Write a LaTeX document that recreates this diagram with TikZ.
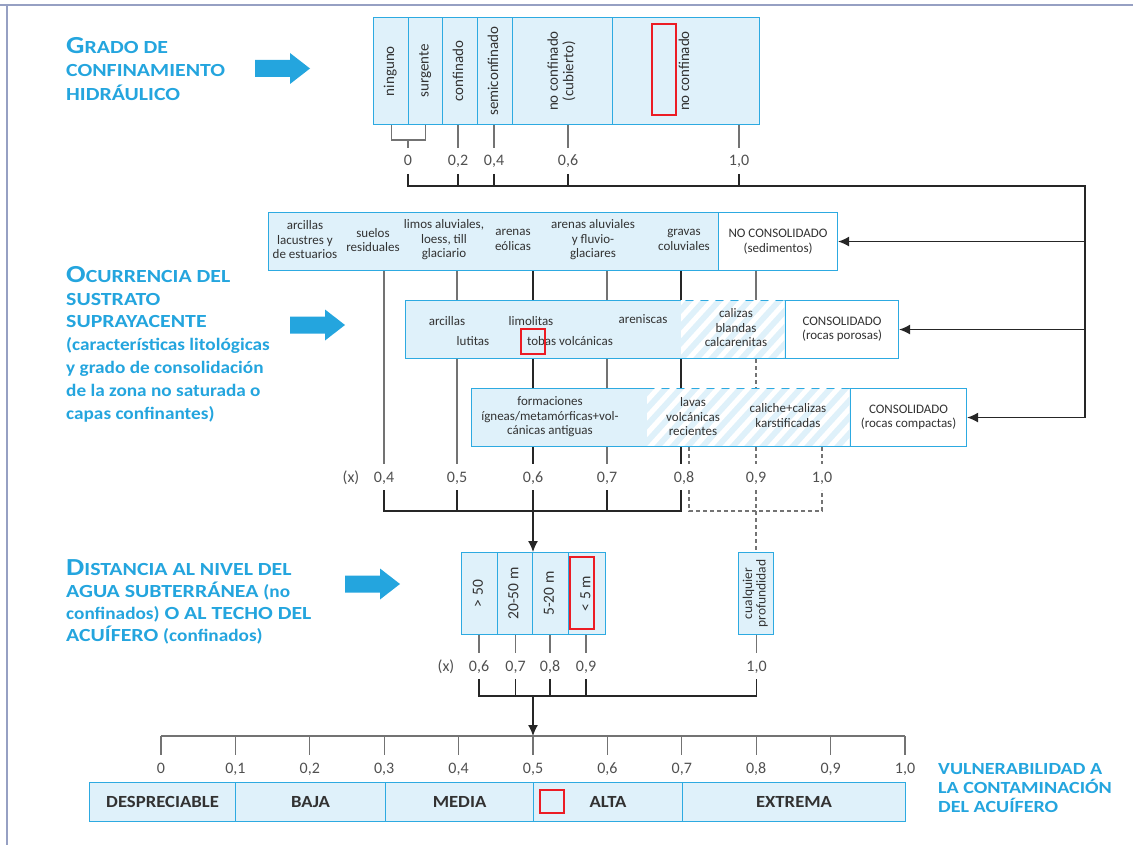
\documentclass[tikz,border=0pt]{standalone}
\usepackage{fontspec}
\setmainfont{Carlito}
\newfontfamily\headfont[FakeStretch=1.1]{Carlito}
\newfontfamily\capfont[FakeStretch=1.18]{Carlito}
\usetikzlibrary{arrows.meta,positioning}

\definecolor{cellline}{RGB}{45,170,225}
\definecolor{cellfill}{RGB}{223,241,250}
\definecolor{headblue}{RGB}{36,165,222}
\definecolor{textgray}{RGB}{50,50,50}
\definecolor{numgray}{RGB}{80,80,80}
\definecolor{conngray}{RGB}{115,115,115}
\definecolor{markred}{RGB}{236,28,36}
\definecolor{framegray}{RGB}{150,160,195}

\newcommand{\up}[1]{\rotatebox{90}{\begin{tabular}{@{}c@{}}#1\end{tabular}}}
\newcommand{\initial}[1]{{\fontsize{24.5}{20}\selectfont #1}}
\newcommand{\lc}[1]{{\headfont\bfseries\fontsize{17.5}{20}\selectfont #1}}
% block arrow pointing right, tail centre at (#1,#2)
\newcommand{\blockarrow}[2]{%
  \fill[headblue] (#1,#2) ++(0,-8.5) -- ++(35,0) -- ++(0,-7) -- ++(20,15.5)
    -- ++(-20,15.5) -- ++(0,-7) -- ++(-35,0) -- cycle;}

\tikzset{
  cell/.style={draw=cellline, line width=1.1, fill=cellfill, inner sep=0,
    anchor=north west, align=center, text=textgray,
    font=\fontsize{13}{14.5}\selectfont},
  emptycell/.style={cell, fill=white},
  upcell/.style={cell, font=\fontsize{15}{15.5}\selectfont},
  lbl/.style={inner sep=0, align=center, text=textgray,
    font=\fontsize{13}{14.5}\selectfont},
  num/.style={inner sep=0, text height=10, text depth=0, outer ysep=8,
    text=numgray, font=\fontsize{16}{16}\selectfont},
  conn/.style={draw=conngray, line width=1.1},
  dconn/.style={conn, dash pattern=on 4pt off 3pt},
  hconn/.style={draw=black!85, line width=1.3},
  tip/.style={-{Latex[length=11,width=10]}},
  hatchline/.style={white, line width=5},
  heading/.style={inner sep=0, anchor=north west, align=left, text=headblue},
  grade/.style={cell, font=\headfont\bfseries\fontsize{17}{17}\selectfont},
  redmark/.style={draw=markred, line width=2.6}
}

\begin{document}
\begin{tikzpicture}[x=1pt,y=-1pt]
\useasboundingbox (0,0) rectangle (1133,845);
\draw[framegray, line width=1.5] (0,5) -- (1133,5);
\draw[framegray, line width=1.5] (7,5) -- (7,845);

% headings on the left
\node[heading, font=\capfont\bfseries\fontsize{18.5}{23.5}\selectfont] (hgrado) at (66,37)
  {\initial{G}RADO DE\\CONFINAMIENTO\\HIDRÁULICO};
\blockarrow{255}{68.5}
\node[heading, font=\capfont\bfseries\fontsize{18.5}{22.8}\selectfont] (hsust) at (66,266)
  {\initial{O}CURRENCIA DEL\\SUSTRATO\\SUPRAYACENTE\\\lc{(características litológicas}\\\lc{y grado de consolidación}\\\lc{de la zona no saturada o}\\\lc{capas confinantes)}};
\blockarrow{290}{325}
\node[heading, font=\capfont\bfseries\fontsize{18.5}{22.3}\selectfont] (hdist) at (66,559)
  {\initial{D}ISTANCIA AL NIVEL DEL\\AGUA SUBTERRÁNEA \lc{(no}\\\lc{confinados)} O AL TECHO DEL\\ACUÍFERO \lc{(confinados)}};
\blockarrow{345}{584}

% confinement
\node[upcell, minimum width=35, minimum height=107] (ning) at (373,17) {\up{ninguno}};
\node[upcell, minimum width=34, minimum height=107] (surg) at (408,17) {\up{surgente}};
\node[upcell, minimum width=35, minimum height=107] (conf) at (442,17) {\up{confinado}};
\node[upcell, minimum width=35, minimum height=107] (semi) at (477,17) {\up{semiconfinado}};
\node[upcell, minimum width=100, minimum height=107] (cubi) at (512,17) {\up{no confinado\\(cubierto)}};
\node[upcell, minimum width=147, minimum height=107] (noco) at (612,17) {\up{no confinado}};

\node[num] (g0) at (408,161) {0};
\node[num] (g2) at (458,161) {0,2};
\node[num] (g4) at (494,161) {0,4};
\node[num] (g6) at (568,161) {0,6};
\node[num] (g10) at (739,161) {1,0};

\coordinate (brk) at (408,140);
\draw[conn] (ning.south) -- (ning.south |- brk) -- (surg.south |- brk) -- (surg.south);
\draw[conn] (brk) -- (g0.north);
\foreach \g/\c in {g2/conf, g4/semi, g6/cubi, g10/noco}
  \draw[conn] (\g.north |- \c.south) -- (\g.north);

% substrate
\node[cell, minimum width=450, minimum height=58] (nc) at (268,212) {};
\node[emptycell, minimum width=119, minimum height=58] (ncw) at (718,212) {NO CONSOLIDADO\\(sedimentos)};
\node[cell, minimum width=380, minimum height=58] (cp) at (405,300) {};
\node[emptycell, minimum width=113, minimum height=58] (cpw) at (785,300) {CONSOLIDADO\\(rocas porosas)};
\node[cell, minimum width=379, minimum height=58] (cc) at (471,388) {};
\node[emptycell, minimum width=116, minimum height=58] (ccw) at (850,388) {CONSOLIDADO\\(rocas compactas)};

\begin{scope}
  \clip (681,300.6) rectangle (784.4,357.4);
  \foreach \k in {0,...,11}
    \draw[hatchline] (626+15*\k,362) -- ++(60,-66);
\end{scope}
\begin{scope}
  \clip (647,388.6) rectangle (849.4,445.4);
  \foreach \k in {0,...,18}
    \draw[hatchline] (587+15*\k,450) -- ++(60,-66);
\end{scope}

\node[lbl] (t1a) at (305,240) {arcillas\\lacustres y\\de estuarios};
\node[lbl] (t1b) at (373,240) {suelos\\residuales};
\node[lbl] (t1c) at (444,240) {limos aluviales,\\loess, till\\glaciario};
\node[lbl] (t1d) at (513,240) {arenas\\eólicas};
\node[lbl] (t1e) at (593,240) {arenas aluviales\\y fluvio-\\glaciares};
\node[lbl] (t1f) at (684,240) {gravas\\coluviales};

\node[lbl] (t2a) at (447,321) {arcillas};
\node[lbl] (t2b) at (473,341) {lutitas};
\node[lbl] (t2c) at (531,321) {limolitas};
\node[lbl] (t2d) at (570,341) {tobas volcánicas};
\node[lbl] (t2e) at (643,319) {areniscas};
\node[lbl] (t2f) at (736,328) {calizas\\blandas\\calcarenitas};

\node[lbl] (t3a) at (550,417) {formaciones\\ígneas/metamórficas+vol-\\cánicas antiguas};
\node[lbl] (t3b) at (693,417) {lavas\\volcánicas\\recientes};
\node[lbl] (t3c) at (788,415.5) {caliche+calizas\\karstificadas};

\coordinate (rtop) at (1085,186);
\draw[hconn] (g0.south) -- (g0.south |- rtop) -- (rtop) -- (rtop |- ccw.east);
\foreach \g in {g2,g4,g6,g10}
  \draw[hconn] (\g.south) -- (\g.south |- rtop);
\foreach \b in {ncw,cpw,ccw}
  \draw[hconn,tip] (rtop |- \b.east) -- (\b.east);

\node[num] (x1) at (351,477) {(x)};
\node[num] (m4) at (384,477) {0,4};
\node[num] (m5) at (457,477) {0,5};
\node[num] (m6) at (533,477) {0,6};
\node[num] (m7) at (607,477) {0,7};
\node[num] (m8) at (684,477) {0,8};
\node[num] (m9) at (756,477) {0,9};
\node[num] (m10) at (822,477) {1,0};
\coordinate (s8) at (681,477);
\coordinate (s8d) at (689,477);

\draw[conn] (m4.north |- nc.south) -- (m4.north);
\draw[conn] (m5.north |- nc.south) -- (m5.north |- cp.north);
\draw[conn] (m5.north |- cp.south) -- (m5.north);
\draw[hconn] (m6.north |- nc.south) -- (m6.north |- cp.north);
\draw[hconn] (m6.north |- cp.south) -- (m6.north |- cc.north);
\draw[hconn] (m6.north |- cc.south) -- (m6.north);
\draw[conn] (m7.north |- nc.south) -- (m7.north |- cp.north);
\draw[conn] (m7.north |- cp.south) -- (m7.north |- cc.north);
\draw[conn] (m7.north |- cc.south) -- (m7.north);
\draw[hconn] (s8 |- nc.south) -- (s8 |- cp.north);
\draw[hconn] (s8 |- cp.south) -- (s8 |- cc.north);
\draw[hconn] (s8 |- cc.south) -- (s8 |- m8.north);
\draw[conn] (m9.north |- ncw.south) -- (m9.north |- cp.north);
\draw[dconn] (m9.north |- cp.south) -- (m9.north |- cc.north);
\draw[dconn] (m9.north |- cc.south) -- (m9.north);
\draw[dconn] (s8d |- cc.south) -- (s8d |- m8.north);
\draw[dconn] (m10.north |- cc.south) -- (m10.north);

% depth
\node[upcell, font=\fontsize{15.5}{16}\selectfont, minimum width=36, minimum height=82] (dc1) at (461,552) {\up{> 50}};
\node[upcell, font=\fontsize{15.5}{16}\selectfont, minimum width=35, minimum height=82] (dc2) at (497,552) {\up{20-50 m}};
\node[upcell, font=\fontsize{15.5}{16}\selectfont, minimum width=36, minimum height=82] (dc3) at (532,552) {\up{5-20 m}};
\node[upcell, font=\fontsize{15.5}{16}\selectfont, minimum width=37, minimum height=82] (dc4) at (568,552) {\up{< 5 m}};
\node[upcell, font=\fontsize{13.5}{13.5}\selectfont, minimum width=35, minimum height=82] (dprof) at (738,552) {\up{cualquier\\profundidad}};

\coordinate (mj) at (533,511);
\draw[hconn] (m4.south) -- (m4.south |- mj) -- (s8 |- mj) -- (s8 |- m8.south);
\foreach \m in {m5,m6,m7}
  \draw[hconn] (\m.south) -- (\m.south |- mj);
\draw[dconn] (s8d |- m8.south) -- (s8d |- mj) -- (m10.south |- mj) -- (m10.south);
\draw[dconn] (m9.south) -- (m9.south |- dprof.north);
\draw[hconn,tip] (mj) -- (mj |- dc2.north);

\node[num] (x2) at (446,666) {(x)};
\node[num] (d6) at (479,666) {0,6};
\node[num] (d7) at (515.5,666) {0,7};
\node[num] (d8) at (550,666) {0,8};
\node[num] (d9) at (586,666) {0,9};
\node[num] (d10) at (756.5,666) {1,0};
\foreach \d/\c in {d6/dc1,d7/dc2,d8/dc3,d9/dc4,d10/dprof}
  \draw[conn] (\d.north |- \c.south) -- (\d.north);

% vulnerability scale
\coordinate (ax0) at (161,736);
\coordinate (dj) at (533,696);
\draw[hconn] (d6.south) -- (d6.south |- dj) -- (d10.south |- dj) -- (d10.south);
\foreach \d in {d7,d8,d9}
  \draw[hconn] (\d.south) -- (\d.south |- dj);
\draw[hconn,tip] (dj) -- (dj |- ax0);

\foreach \i/\t in {0/0,1/{0,1},2/{0,2},3/{0,3},4/{0,4},5/{0,5},6/{0,6},7/{0,7},8/{0,8},9/{0,9},10/{1,0}}
  \node[num] (v\i) at (161+74.4*\i,768) {\t};
\draw[conn] (v0 |- ax0) -- (v10 |- ax0);
\foreach \i in {0,...,10}
  \draw[conn] (v\i |- ax0) -- (v\i.north);

\node[grade, minimum width=146, minimum height=39] (desp) at (89,782) {DESPRECIABLE};
\node[grade, minimum width=150, minimum height=39] (baja) at (235,782) {BAJA};
\node[grade, minimum width=148, minimum height=39] (media) at (385,782) {MEDIA};
\node[grade, minimum width=149, minimum height=39] (alta) at (533,782) {ALTA};
\node[grade, minimum width=223, minimum height=39] (extr) at (682,782) {EXTREMA};

\node[heading, font=\capfont\bfseries\fontsize{17}{19}\selectfont] (vuln) at (938,763.5)
  {VULNERABILIDAD A\\LA CONTAMINACIÓN\\DEL ACUÍFERO};

% marks
\draw[redmark] (652,24) rectangle (676,115);
\draw[redmark] (521,329) rectangle (545,354);
\draw[redmark] (570,557) rectangle (594,629);
\draw[redmark] (540,790) rectangle (564,813);
\end{tikzpicture}
\end{document}
